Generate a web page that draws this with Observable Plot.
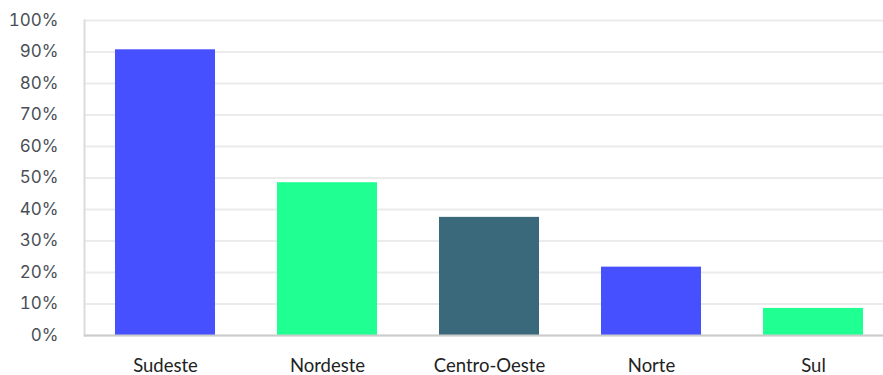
<!DOCTYPE html>
<html>
<head>
<meta charset="utf-8">
<script src="https://cdn.jsdelivr.net/npm/d3@7"></script>
<script src="https://cdn.jsdelivr.net/npm/@observablehq/plot@0.6"></script>
<style>
  html, body { margin: 0; padding: 0; background: #fff; }
  #chart svg { display: block; }
</style>
</head>
<body>
<div id="chart"></div>
<script>
const regions = ["Sudeste", "Nordeste", "Centro-Oeste", "Norte", "Sul"];
const values = [90.7, 48.5, 37.5, 21.7, 8.6];
const colors = ["#4750FF", "#20FF91", "#3B697C", "#4750FF", "#20FF91"];
const yTicks = [0, 10, 20, 30, 40, 50, 60, 70, 80, 90, 100];

const data = regions.map((r, i) => ({region: r, value: values[i], color: colors[i]}));

const chart = Plot.plot({
  width: 883,
  height: 375,
  marginTop: 20,
  marginBottom: 40,
  marginLeft: 84,
  marginRight: 0,
  x: {domain: regions, range: [84, 894], paddingInner: 0.383, paddingOuter: 0.191, label: null},
  y: {domain: [0, 100], label: null},
  marks: [
    Plot.gridY(yTicks, {stroke: "#ebebeb", strokeOpacity: 1, strokeWidth: 2}),
    Plot.frame({anchor: "left", stroke: "#dcdcdc", strokeWidth: 2}),
    Plot.barY(data, {x: "region", y: "value", fill: "color"}),
    Plot.ruleY([0], {stroke: "#cccccc", strokeWidth: 2}),
    Plot.axisY(yTicks, {tickSize: 0, tickPadding: 26, tickFormat: d => d + "%", fontSize: 17, fill: "#4a4f57", fontFamily: "Inter, sans-serif", label: null}),
    Plot.axisX({tickSize: 0, tickPadding: 23, fontSize: 18.5, fill: "#222", fontFamily: "Lato, sans-serif", label: null})
  ]
});
document.getElementById("chart").appendChild(chart);
</script>
</body>
</html>
